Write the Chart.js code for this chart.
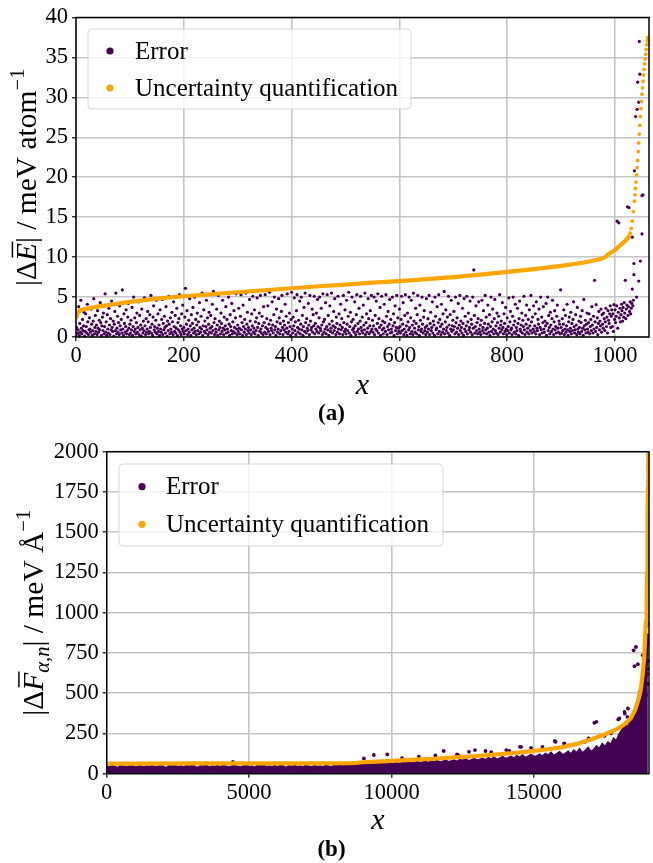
<!DOCTYPE html>
<html><head><meta charset="utf-8">
<script src="https://cdn.jsdelivr.net/npm/chart.js@4.4.1/dist/chart.umd.min.js"></script>
<style>
html,body{margin:0;padding:0;background:#fff;width:653px;height:863px;overflow:hidden}
canvas{position:absolute;left:0;display:block}
#ca{top:0}
#cb{top:432px}
</style></head><body>
<canvas id="ca" width="653" height="432"></canvas>
<canvas id="cb" width="653" height="431"></canvas>
<script>
// ---------------- DATA : panel (a) ----------------
const legendLabels = ['Error', 'Uncertainty quantification'];
const panelLabels = ['(a)', '(b)'];
const xTicksA = [0, 200, 400, 600, 800, 1000];
const yTicksA = [0, 5, 10, 15, 20, 25, 30, 35, 40];
const xTicksB = [0, 5000, 10000, 15000];
const yTicksB = [0, 250, 500, 750, 1000, 1250, 1500, 1750, 2000];

// error of each structure, x = index (sorted by uncertainty)
const errA = [
0.3,1.2,2.6,0.5,0.9,3.8,0.2,1.7,0.6,4.6,1.1,0.4,2.2,0.8,1.4,3.1,0.1,0.7,2.9,1.3,0.5,4.1,1.9,0.3,0.9,2.4,1.0,0.6,3.5,1.6,0.2,0.8,2.0,4.8,0.4,1.2,2.7,0.7,1.5,0.3,3.3,1.1,0.6,2.1,0.9,4.3,1.8,0.2,1.4,2.5,
0.8,3.0,0.4,1.3,5.4,0.6,1.9,0.2,2.8,1.0,0.5,3.6,1.5,0.3,2.3,0.9,4.5,1.2,0.7,2.0,0.1,1.6,3.2,0.8,5.5,0.4,1.1,2.6,0.6,1.8,0.3,3.9,1.4,0.9,2.2,0.5,5.9,1.0,0.2,2.9,1.7,0.6,1.3,3.4,0.4,0.8,2.5,4.2,1.1,0.3,
1.6,0.5,2.1,0.9,3.7,0.2,1.3,5.0,0.7,2.4,1.0,0.4,1.8,3.0,0.6,1.2,4.4,0.3,2.7,0.9,1.5,0.1,3.5,1.1,0.5,2.0,0.8,4.9,1.4,0.3,2.3,0.6,1.0,3.2,1.9,0.4,0.7,2.8,1.2,5.2,0.5,1.6,0.2,2.5,3.9,0.9,1.3,0.6,2.1,4.6,
0.4,1.1,2.9,0.7,1.5,0.2,3.4,1.0,0.6,2.2,4.7,0.3,1.7,0.9,2.6,1.2,0.5,3.8,1.4,0.1,2.0,0.8,5.1,1.6,0.4,2.4,1.0,0.6,3.1,1.9,0.3,4.4,1.3,0.7,2.7,0.5,1.1,3.6,0.2,1.8,0.9,2.3,5.3,0.6,1.4,0.3,2.9,1.0,4.0,0.7,
1.2,0.4,2.5,6.1,0.8,1.6,3.3,0.3,1.0,2.1,0.6,4.8,1.4,0.2,2.8,0.9,1.7,3.7,0.5,1.1,5.0,0.7,2.2,0.3,1.5,3.0,0.8,1.9,0.4,4.3,1.2,0.6,2.6,1.0,5.5,0.2,1.4,3.4,0.7,2.0,0.5,1.3,4.6,0.9,2.4,0.3,1.6,3.1,0.6,1.1,
2.7,0.5,1.3,4.1,0.8,5.7,1.8,0.3,2.3,1.0,0.6,3.5,1.5,0.2,5.2,0.9,2.0,1.2,0.4,3.0,1.7,0.7,4.6,1.1,0.3,2.5,0.9,1.4,3.8,0.5,2.2,1.0,0.6,5.0,1.6,0.2,2.8,1.3,0.8,4.2,0.4,1.9,0.7,3.3,1.2,0.5,2.4,5.4,1.0,0.3,
1.5,0.7,3.6,1.1,0.4,2.6,5.3,0.9,1.8,0.2,4.0,1.3,0.6,2.2,1.0,5.5,0.3,1.6,3.1,0.8,1.2,0.5,4.7,2.0,0.9,0.3,2.9,1.4,5.1,0.6,1.1,3.4,0.4,1.9,0.8,2.4,4.9,1.2,0.2,1.7,3.0,0.7,5.2,1.0,0.5,2.6,1.4,0.3,3.8,1.8,
0.6,5.3,1.2,0.4,2.3,1.0,3.9,0.7,1.6,5.6,0.3,2.1,1.1,0.8,4.4,1.5,0.5,2.8,5.0,0.9,1.3,0.2,3.5,1.9,0.6,1.0,4.8,2.4,0.4,1.7,0.8,3.2,5.2,1.2,0.3,2.0,0.9,1.5,4.1,0.6,2.6,1.1,5.4,0.4,1.8,0.7,3.0,1.3,0.2,2.2,
5.6,1.0,0.5,2.5,1.4,4.9,0.8,1.9,0.3,3.3,5.3,1.2,0.6,2.1,1.0,4.5,0.4,1.6,5.0,0.9,2.7,0.2,1.3,3.7,0.7,5.5,1.8,0.5,2.3,1.1,0.8,4.2,1.5,0.3,5.2,2.0,0.9,1.2,3.5,0.6,2.8,1.4,5.1,0.4,1.7,1.0,3.0,0.7,4.7,1.3,
0.5,2.4,5.0,1.1,0.8,3.6,1.5,0.3,5.4,1.9,0.6,2.2,1.0,4.3,0.4,1.3,5.3,0.9,2.7,0.2,1.6,3.9,0.7,1.1,5.5,2.0,0.5,1.4,3.2,0.8,4.8,1.2,0.3,2.5,1.7,0.6,5.1,1.0,2.9,0.4,1.5,4.1,0.9,2.3,1.2,0.3,5.2,1.8,0.7,3.4,
1.0,0.4,4.6,1.6,0.8,2.6,5.6,0.5,1.3,3.1,0.2,1.9,5.0,0.9,2.2,1.1,0.6,4.4,1.4,0.3,2.8,5.3,0.7,1.7,1.0,3.6,0.4,2.0,5.1,1.2,0.8,2.5,0.5,4.0,1.5,0.9,5.5,0.3,1.8,2.9,0.6,1.1,4.8,2.3,0.4,1.4,3.3,0.7,5.2,1.0,
2.1,0.6,1.4,5.0,0.3,2.7,1.0,4.5,0.8,1.7,5.4,0.5,2.3,1.2,3.7,0.2,1.5,5.1,0.9,2.0,0.4,1.1,4.1,1.8,0.7,5.3,2.6,0.3,1.3,3.2,0.9,1.6,4.7,0.5,2.2,1.0,0.6,5.0,1.4,2.9,0.2,1.8,3.9,0.8,1.2,5.2,0.4,2.4,1.1,0.7,
3.5,1.3,0.5,2.2,5.1,0.8,1.6,4.3,0.3,1.0,2.7,5.3,0.6,1.4,0.2,3.0,1.9,0.9,5.0,1.2,0.4,2.4,4.6,0.7,1.5,0.3,5.5,2.0,1.1,0.6,3.6,1.7,0.4,2.8,5.2,0.9,1.3,0.2,4.0,2.1,0.7,1.0,5.0,1.6,0.5,2.5,3.3,0.8,1.2,0.3,
4.8,1.4,0.6,2.3,1.0,5.2,0.3,1.7,3.1,0.8,1.2,4.4,0.5,2.0,1.5,0.2,5.0,2.6,0.9,1.1,3.8,0.4,1.8,5.3,0.7,2.2,1.3,0.3,4.1,1.6,0.6,2.9,1.0,5.7,0.4,1.9,3.4,0.8,1.2,2.5,0.5,5.1,1.5,0.2,2.8,1.0,4.6,0.7,1.4,2.1,
0.9,3.2,1.3,0.4,5.0,1.8,0.6,2.4,1.1,4.2,0.3,1.5,5.2,0.8,2.0,1.2,0.5,3.6,1.7,0.2,4.8,1.0,2.6,0.7,1.4,5.1,0.4,1.9,3.0,0.9,1.2,4.5,0.6,2.2,1.6,0.3,5.0,1.1,8.4,2.7,0.5,1.3,3.9,0.8,1.8,0.4,2.3,4.4,1.0,0.6,
1.5,0.3,2.1,4.6,0.8,1.2,3.3,0.5,1.7,5.2,0.9,2.5,0.4,1.1,4.0,1.6,0.6,2.8,0.2,1.3,5.0,0.7,1.9,3.5,1.0,0.4,2.3,4.7,0.8,1.4,0.5,3.0,1.8,0.3,2.6,1.1,5.3,0.6,1.5,2.0,0.9,4.3,1.2,0.4,2.9,1.7,0.7,3.7,1.0,0.3,
2.4,0.8,1.3,4.9,0.5,1.9,3.2,0.9,1.1,0.3,2.6,5.0,1.5,0.6,2.0,4.1,0.4,1.2,0.8,3.6,1.7,0.2,2.3,4.5,1.0,0.7,1.5,3.0,0.5,2.1,1.3,5.1,0.9,0.3,2.7,1.6,4.0,0.6,1.1,2.2,0.4,3.4,1.4,0.8,5.2,1.9,0.5,2.5,1.0,3.9,
0.7,1.4,2.9,0.4,4.4,1.1,0.8,2.2,1.6,3.5,0.3,1.2,5.0,0.9,2.5,0.5,1.8,3.8,1.0,0.6,2.0,1.4,4.2,0.2,1.7,5.0,0.8,2.7,1.2,0.4,3.1,1.5,0.7,2.3,4.6,1.0,0.3,1.9,3.3,0.9,1.3,0.5,2.6,4.0,1.1,0.6,2.0,1.6,0.4,5.9,
1.2,0.5,2.3,0.8,1.6,3.4,0.3,1.0,2.7,0.6,1.4,4.1,0.9,0.2,1.9,2.5,0.7,1.1,3.1,0.4,1.7,0.8,2.2,4.4,1.3,0.5,0.9,2.8,1.5,0.3,3.7,1.0,0.6,2.0,1.2,0.4,2.6,1.8,0.7,3.3,1.1,0.2,4.7,1.4,0.9,2.1,0.5,1.6,3.0,1.0,
0.6,1.8,2.9,0.4,1.3,2.2,0.8,3.8,1.5,0.5,2.6,1.0,7.1,1.9,0.7,4.05,1.2,2.4,0.3,1.7,3.2,0.9,2.0,1.4,3.5,0.6,2.8,1.6,1.1,3.0,2.3,0.8,1.9,3.6,1.3,2.5,0.5,3.3,2.1,1.7,2.9,3.9,1.2,2.6,3.4
];
// last structures (highest uncertainty): [index, error]
const errATail = [
[995,1.3],[996,2.9],[997,0.7],[998,4.05],[999,2.2],[1000,3.4],[1001,1.8],[1002,2.6],[1003,3.9],[1004,14.5],[1005,1.1],[1006,3.1],
[1007,14.3],[1008,2.4],[1009,3.6],[1010,1.9],[1011,2.8],[1012,4.1],[1013,3.3],[1014,2.0],[1015,3.7],[1016,2.5],[1017,4.3],[1018,3.0],
[1019,7.1],[1020,2.3],[1021,3.5],[1022,4.0],[1023,16.3],[1024,2.7],[1025,3.8],[1026,16.2],[1027,3.2],[1028,4.4],[1029,2.9],[1030,3.6],
[1031,4.2],[1032,12.5],[1032,6.0],[1033,3.9],[1034,4.6],[1035,7.8],[1035,9.2],[1036,20.8],[1038,27.6],[1040,5.0],[1041,28.5],[1042,31.9],
[1044,29.4],[1044,7.0],[1045,37.0],[1046,32.9],[1047,9.5],[1050,12.9],[1050,17.7],[1052,17.8]
];
// uncertainty quantification (sorted), smooth part: [index, value]
const uqA = [
[0,2.4],[3,3.0],[8,3.35],[20,3.55],[40,3.8],[60,4.0],[100,4.4],[150,4.8],[200,5.1],[250,5.35],[300,5.6],[350,5.85],
[400,6.1],[450,6.35],[500,6.55],[550,6.8],[600,7.0],[650,7.25],[700,7.5],[750,7.8],[800,8.15],[850,8.5],[900,8.9],
[940,9.3],[970,9.7],[982,10.0],[988,10.4],[1000,10.9],[1010,11.5],[1020,12.1],[1026,12.6]
];
// steep end of the uncertainty curve: [index, value]
const uqATail = [
[1028,13.0],[1030,13.6],[1032,14.5],[1034,15.7],[1036,17.0],[1037,17.8],[1038,18.6],[1039,19.4],[1040,20.3],[1041,21.2],
[1042,22.1],[1043,23.2],[1044,24.3],[1045,25.4],[1046,26.5],[1047,27.6],[1048,28.6],[1049,29.5],[1050,30.4],[1051,31.2],
[1052,32.0],[1053,32.8],[1054,33.5],[1055,34.2],[1056,34.8],[1057,35.4],[1058,36.0],[1059,36.6],[1060,37.1],[1061,37.5]
];

// ---------------- DATA : panel (b) ----------------
// upper edge of the dense error cloud, sampled every 100 force components
const errBTop = [
44,38,47,41,35,50,43,39,46,52,37,42,48,36,45,40,53,38,44,49,
41,35,47,43,51,39,45,37,48,42,55,40,36,46,43,50,38,44,41,47,
39,52,43,37,45,49,41,38,46,53,40,44,36,48,42,57,39,45,41,47,
38,50,43,36,46,42,49,40,44,37,51,43,39,47,41,45,38,52,44,40,
48,
45,50,43,52,47,55,49,53,58,51,
56,60,54,62,58,65,57,61,63,59,
62,66,59,68,64,70,63,67,72,65,
69,73,66,75,71,78,70,74,80,72,
76,82,74,85,79,88,77,83,90,81,
85,92,83,96,88,99,86,94,102,91,
96,104,93,108,99,112,97,106,116,102,
108,118,104,122,112,128,109,120,132,115,
122,136,118,142,128,150,125,140,158,134,
145,168,150,182,165,
192,178,215,200,245,
270,300,285,335,350,
390,430,470,600,850
];
// isolated error points: [index, error]
const errBPts = [
[3500,66],[4430,74],[9030,95],[9380,116],[9850,120],[10370,97],[10960,106],[11540,113],[11830,141],[12350,113],[12300,120],
[12720,136],[12930,147],[13300,141],[13500,134],[14030,147],[14140,141],[14510,167],[14550,167],[14900,160],[15300,167],
[15730,203],[15760,198],[16060,188],[16080,184],[16780,197],[16920,219],[17120,316],[17190,322],[17480,235],[17700,250],
[17960,337],[18000,343],[18030,291],[18180,384],[18190,374],[18280,353],[18300,405],[18300,290],[18500,766],[18530,668],
[18580,787],[18650,680],[18710,508],[18820,508],[18820,736],
[18900,450],[18915,520],[18930,600],[18945,680],[18955,740],[18965,800],[18975,860],[18985,920],[18995,980],[19005,1040],
[19010,1100],[19000,1150],[19015,1200],[19020,1260],[19008,1310],[19025,1360],[19018,1420],[19028,1470],[19012,1520],
[19030,1570],[19022,1620],[19026,1670],[19016,1720],[19032,1770],[19024,1820],[19030,1870],[19020,1920],[19033,1965],
[19028,1995],[18990,650],[19000,560],[19012,700],[19020,820],[19030,940],[18970,620],[18985,700],[19025,1050],[19033,1180],
[18950,560],[18940,490]
];
// uncertainty quantification (sorted): [index, value]
const uqB = [
[0,63],[1000,63],[3000,64],[5000,64],[7000,64],[8500,65],[8800,68],[9000,71],[9500,75],[10000,80],[10500,84],[11000,89],
[11500,93],[12000,99],[12500,104],[13000,110],[13500,117],[14000,124],[14500,132],[15000,142],[15500,152],[16000,165],
[16500,185],[17000,212],[17500,245],[17800,268],[18000,285],[18200,310],[18400,345],[18550,395],[18650,450],[18750,520],
[18820,620],[18870,720],[18900,830],[18935,950],[18960,1080],[18975,1250],[18985,1450],[18995,1620],[19005,1780],[19015,1990]
];

// ---------------- STYLE ----------------
const PURPLE = '#440154', ORANGE = '#ffa500';
const SERIF = '"Liberation Serif", "DejaVu Serif", serif';
const W = 653;
const toXY = a => a.map(p => ({x: p[0], y: p[1]}));

const geo = {
  ca: {H: 432, left: 76, right: 652.3, top: 14.5, bottom: 337, xMax: 1063, yMax: 40,
       xTicks: xTicksA, yTicks: yTicksA, ptR: 1.6,
       ytitle: {x: 36, segs: [{t:'|Δ'},{t:'E',it:1,over:1},{t:'| / meV atom'},{t:'−1',scale:0.7,dy:-0.42}]},
       xtitleY: 394, label: panelLabels[0], labelY: 419.5,
       legend: {x: 88, y: 29, w: 323, h: 80, rows: [51, 88], mx: 110, tx: 135}},
  cb: {H: 431, left: 106.7, right: 652.3, top: 19.7, bottom: 341.7, xMax: 19040, yMax: 2000,
       xTicks: xTicksB, yTicks: yTicksB, ptR: 1.9,
       ytitle: {x: 42.5, segs: [{t:'|Δ'},{t:'F',it:1,over:1},{t:'α,n',it:1,scale:0.7,dy:0.22},{t:'| / meV Å'},{t:'−1',scale:0.7,dy:-0.42}]},
       xtitleY: 397.3, label: panelLabels[1], labelY: 424,
       legend: {x: 119, y: 32, w: 324, h: 82, rows: [54.7, 92.3], mx: 142, tx: 166}}
};

function drawRich(ctx, segs, size, x, y, rot) {
  let total = 0; const m = [];
  for (const s of segs) {
    const fs = size * (s.scale || 1);
    const f = (s.it ? 'italic ' : '') + fs + 'px ' + SERIF;
    ctx.font = f;
    const w = ctx.measureText(s.t).width;
    m.push({f, w}); total += w;
  }
  ctx.save(); ctx.translate(x, y); if (rot) ctx.rotate(rot);
  ctx.fillStyle = '#000'; ctx.strokeStyle = '#000'; ctx.textBaseline = 'alphabetic'; ctx.textAlign = 'left';
  let cx = -total / 2;
  segs.forEach((s, i) => {
    ctx.font = m[i].f;
    ctx.fillText(s.t, cx, (s.dy || 0) * size);
    if (s.over) {
      ctx.beginPath(); ctx.lineWidth = size * 0.05;
      const oy = -size * 0.80;
      ctx.moveTo(cx + m[i].w * 0.2, oy); ctx.lineTo(cx + m[i].w * 1.08, oy); ctx.stroke();
    }
    cx += m[i].w;
  });
  ctx.restore();
}

const deco = {
  id: 'deco',
  afterDatasetsDraw(chart) {
    const ctx = chart.ctx, a = chart.chartArea;
    ctx.save(); ctx.strokeStyle = '#000'; ctx.lineWidth = 1.5;
    ctx.strokeRect(a.left, a.top, a.right - a.left, a.bottom - a.top);
    ctx.restore();
  },
  afterDraw(chart) {
    const g = geo[chart.canvas.id], ctx = chart.ctx, a = chart.chartArea;
    // legend
    const L = g.legend;
    ctx.save();
    ctx.beginPath(); ctx.roundRect(L.x, L.y, L.w, L.h, 4);
    ctx.fillStyle = 'rgba(255,255,255,0.8)'; ctx.fill();
    ctx.strokeStyle = 'rgba(204,204,204,0.8)'; ctx.lineWidth = 1; ctx.stroke();
    const cols = [PURPLE, ORANGE];
    ctx.font = '25px ' + SERIF; ctx.textBaseline = 'middle'; ctx.textAlign = 'left'; ctx.fillStyle = '#000';
    L.rows.forEach((ry, i) => {
      ctx.beginPath(); ctx.arc(L.mx, ry, 3.6, 0, Math.PI * 2); ctx.fillStyle = cols[i]; ctx.fill();
      ctx.fillStyle = '#000'; ctx.fillText(legendLabels[i], L.tx, ry + 1);
    });
    ctx.restore();
    // axis titles
    drawRich(ctx, g.ytitle.segs, 29.5, g.ytitle.x, (a.top + a.bottom) / 2, -Math.PI / 2);
    drawRich(ctx, [{t:'x', it:1}], 30, (a.left + a.right) / 2, g.xtitleY, 0);
    // panel label
    ctx.save(); ctx.font = 'bold 23px ' + SERIF; ctx.textAlign = 'center'; ctx.textBaseline = 'alphabetic'; ctx.fillStyle = '#000';
    ctx.fillText(g.label, 331.5, g.labelY); ctx.restore();
  }
};

function axis(g, isX) {
  return {
    type: 'linear', min: 0, max: isX ? g.xMax : g.yMax,
    afterBuildTicks: s => { s.ticks = (isX ? g.xTicks : g.yTicks).map(v => ({value: v})); },
    afterFit: s => { if (isX) s.height = g.H - g.bottom; else s.width = g.left; },
    ticks: {color: '#000', font: {family: SERIF, size: 22.5}, padding: isX ? 2 : 4, maxRotation: 0, autoSkip: false,
            callback: v => String(v)},
    grid: {color: '#c4c4c4', lineWidth: 1.6, drawTicks: true, tickLength: 4, tickColor: '#000', tickWidth: 1.2},
    border: {display: false}
  };
}

function build(id, datasets) {
  const g = geo[id];
  return new Chart(document.getElementById(id), {
    type: 'scatter',
    data: {datasets},
    options: {
      responsive: false, animation: false, devicePixelRatio: 1, events: [],
      layout: {padding: {top: g.top, right: W - g.right, left: 0, bottom: 0}},
      plugins: {legend: {display: false}, tooltip: {enabled: false}, title: {display: false}},
      scales: {x: axis(g, true), y: axis(g, false)}
    },
    plugins: [deco]
  });
}

const ptA = geo.ca.ptR, ptB = geo.cb.ptR;
build('ca', [
  {label: legendLabels[1], type: 'line', data: toXY(uqA), borderColor: ORANGE, borderWidth: 4.2, pointRadius: 0,
   borderCapStyle: 'round', borderJoinStyle: 'round', tension: 0, fill: false, order: 0},
  {label: legendLabels[1] + ' tail', data: toXY(uqATail), backgroundColor: ORANGE, borderWidth: 0, pointRadius: 1.9, order: 1},
  {label: legendLabels[0], data: errA.map((v, i) => ({x: i, y: v})).concat(toXY(errATail)),
   backgroundColor: PURPLE, borderWidth: 0, pointRadius: ptA, order: 2}
]);
build('cb', [
  {label: legendLabels[1], type: 'line', data: toXY(uqB), borderColor: ORANGE, borderWidth: 4.2, pointRadius: 0,
   borderCapStyle: 'round', borderJoinStyle: 'round', tension: 0, fill: false, order: 0},
  {label: legendLabels[0] + ' points', data: toXY(errBPts), backgroundColor: PURPLE, borderWidth: 0, pointRadius: ptB, order: 1},
  {label: legendLabels[0], type: 'line', data: errBTop.map((v, i) => ({x: i * 100, y: v})), borderColor: PURPLE,
   backgroundColor: PURPLE, borderWidth: 2.5, pointRadius: 0, tension: 0, fill: 'origin', order: 2}
]);
</script>
</body></html>
